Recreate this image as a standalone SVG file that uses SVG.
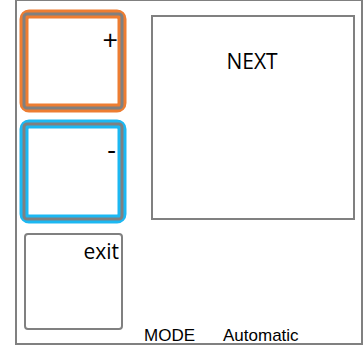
<svg xmlns="http://www.w3.org/2000/svg" width="364" height="349" viewBox="0 0 364 349">
<defs>
<filter id="soft" x="-10%" y="-10%" width="120%" height="120%"><feGaussianBlur stdDeviation="0.5"/></filter>
</defs>
<style>
.frame{fill:#fff;stroke:#808080;stroke-width:2}
.box{fill:#fff;stroke:#808080;stroke-width:2}
.glowO{fill:#fff;stroke:#ED7D31;stroke-width:9}
.glowB{fill:#fff;stroke:#1EB8F2;stroke-width:9}
.inner{fill:none;stroke:#808080;stroke-width:3}
.lbl{font-family:"Open Sans","Noto Sans",sans-serif;fill:#000}
.mode{font-family:"Liberation Sans",Arial,sans-serif;font-size:17px;fill:#000}
</style>
<rect width="364" height="349" fill="#fff"/>
<rect class="frame" x="16" y="0" width="346" height="344"/>
<g id="plus">
<rect class="glowO" x="24" y="14" width="98" height="94" rx="5" filter="url(#soft)"/>
<rect class="inner" x="24" y="14" width="98" height="94" rx="3"/>
<text class="lbl" x="118" y="50" font-size="27" text-anchor="end">+</text>
</g>
<g id="minus">
<rect class="glowB" x="24" y="124" width="98" height="95" rx="5" filter="url(#soft)"/>
<rect class="inner" x="24" y="124" width="98" height="95" rx="3"/>
<text class="lbl" x="116" y="159" font-size="27" text-anchor="end">-</text>
</g>
<g id="exit">
<rect class="box" x="25" y="234" width="97" height="95" rx="3"/>
<text class="lbl" x="119" y="259" font-size="21" text-anchor="end">exit</text>
</g>
<g id="next">
<rect class="box" x="152" y="16" width="202" height="203"/>
<text class="lbl" x="252" y="69" font-size="21" text-anchor="middle">NEXT</text>
</g>
<g id="mode">
<text class="mode" x="144" y="341">MODE</text>
<text class="mode" x="223" y="341">Automatic</text>
</g>
<g id="connectors"/>
</svg>
